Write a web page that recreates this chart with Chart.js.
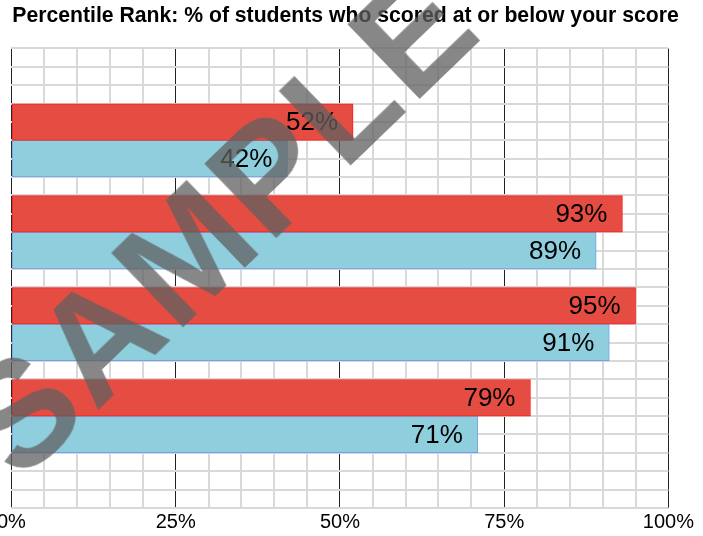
<!DOCTYPE html>
<html>
<head>
<meta charset="utf-8">
<script src="https://cdn.jsdelivr.net/npm/chart.js@4"></script>
<style>
  html, body { margin: 0; padding: 0; background: #fff; overflow: hidden; }
  #wrap { position: absolute; left: -5px; top: 0; width: 701px; height: 536px; }
  #stamp {
    position: absolute; left: 218px; top: 222px;
    transform: translate(-50%, -50%) rotate(-44deg);
    font: bold 150px "Liberation Sans", Arial, sans-serif;
    letter-spacing: 4px;
    color: rgba(95, 95, 95, 0.75);
    pointer-events: none; white-space: nowrap;
  }
</style>
</head>
<body>
<div id="wrap"><canvas id="chart"></canvas></div>
<div id="stamp">SAMPLE</div>
<script>
const titleText = 'Percentile Rank: % of students who scored at or below your score';
const categories = ['Row 1', 'Row 2', 'Row 3', 'Row 4'];
const redValues = [52, 93, 95, 79];
const blueValues = [42, 89, 91, 71];
const xTickLabels = [0, 25, 50, 75, 100];

// draws "NN%" inside the end of each bar
const barLabels = {
  id: 'barLabels',
  afterDatasetsDraw(chart) {
    const ctx = chart.ctx;
    ctx.save();
    ctx.font = '26px "Liberation Sans", Arial, sans-serif';
    ctx.fillStyle = '#000';
    ctx.textAlign = 'right';
    ctx.textBaseline = 'middle';
    chart.data.datasets.forEach((ds, di) => {
      const meta = chart.getDatasetMeta(di);
      meta.data.forEach((bar, i) => {
        const p = bar.getProps(['x', 'y'], true);
        ctx.fillText(ds.data[i].x + '%', p.x - 15, p.y + 1);
      });
    });
    ctx.restore();
  }
};

function isMajor(c) {
  return c.tick && xTickLabels.includes(c.tick.value);
}

const ctx = document.getElementById('chart').getContext('2d');
new Chart(ctx, {
  type: 'bar',
  data: {
    datasets: [
      {
        label: 'Red',
        data: categories.map((c, i) => ({ x: redValues[i], y: i + 1 })),
        backgroundColor: '#e54d43',
        borderColor: '#ff1a1a',
        borderWidth: 1,
        borderSkipped: false,
        barThickness: 36.6
      },
      {
        label: 'Blue',
        data: categories.map((c, i) => ({ x: blueValues[i], y: i + 1 })),
        backgroundColor: '#8fcedd',
        borderColor: '#6f9fee',
        borderWidth: 1,
        borderSkipped: false,
        barThickness: 36.6
      }
    ]
  },
  options: {
    indexAxis: 'y',
    responsive: true,
    maintainAspectRatio: false,
    animation: false,
    layout: { padding: { bottom: 0 } },
    plugins: {
      legend: { display: false },
      tooltip: { enabled: false },
      title: {
        display: true,
        text: titleText,
        color: '#000',
        font: { family: '"Liberation Sans", Arial, sans-serif', size: 21.2, weight: 'bold' },
        padding: { top: 3, bottom: 20 }
      }
    },
    scales: {
      x: {
        type: 'linear',
        min: 0,
        max: 100,
        offset: false,
        border: { display: false },
        grid: {
          offset: false,
          drawTicks: false,
          color: c => isMajor(c) ? '#222' : '#d9d9d9',
          lineWidth: c => isMajor(c) ? 1 : 2
        },
        ticks: {
          stepSize: 5,
          autoSkip: false,
          maxRotation: 0,
          padding: 2,
          color: '#000',
          font: { family: '"Liberation Sans", Arial, sans-serif', size: 20 },
          callback: v => xTickLabels.includes(v) ? v + '%' : ''
        }
      },
      y: {
        type: 'linear',
        min: 0,
        max: 5,
        reverse: true,
        offset: false,
        border: { display: false },
        grid: { offset: false, drawTicks: false, color: '#d9d9d9', lineWidth: 2 },
        ticks: { display: false, stepSize: 0.2 }
      }
    }
  },
  plugins: [barLabels]
});
</script>
</body>
</html>
